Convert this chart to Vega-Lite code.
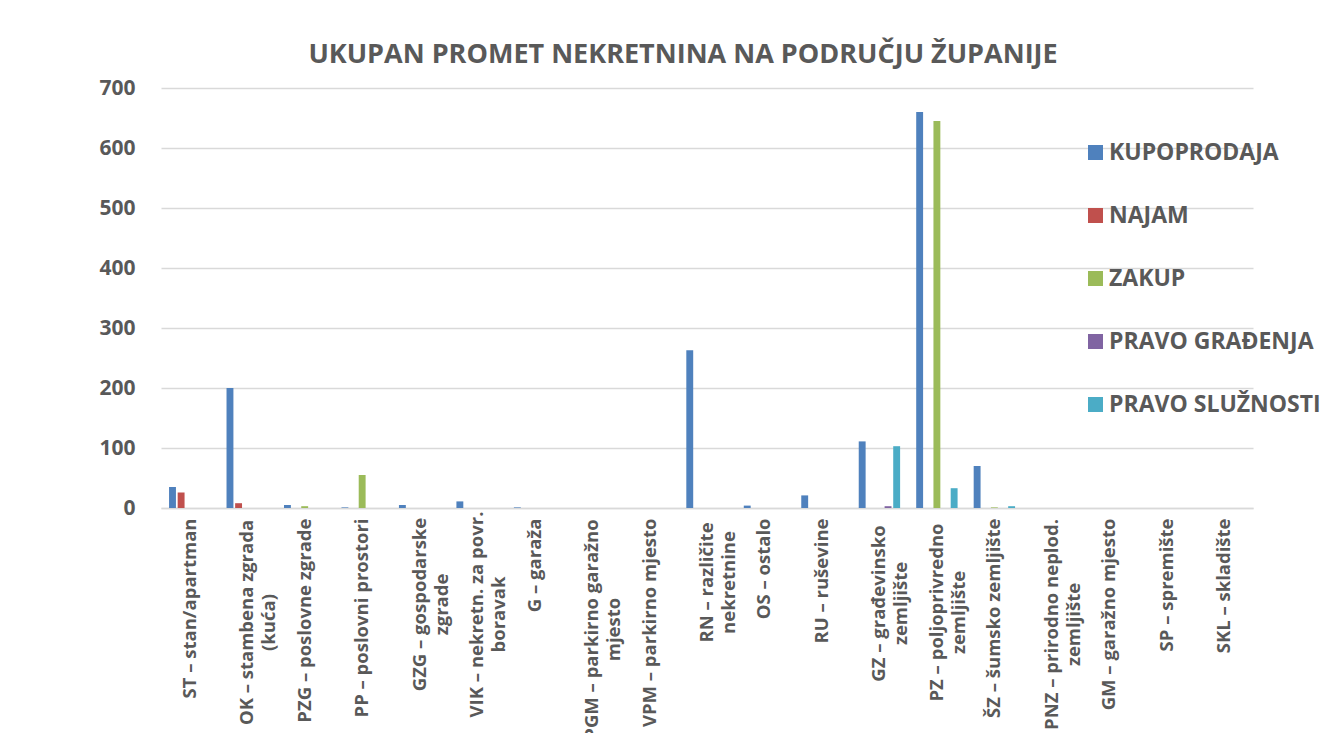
{
  "$schema": "https://vega.github.io/schema/vega-lite/v6.json",
  "width": 1092,
  "height": 420,
  "autosize": {"type": "none"},
  "padding": {"left": 161, "top": 88, "right": 88, "bottom": 225},
  "background": "white",
  "title": {
    "text": "UKUPAN PROMET NEKRETNINA NA PODRUČJU ŽUPANIJE",
    "font": "Open Sans",
    "fontSize": 27,
    "fontWeight": "bold",
    "color": "#595959",
    "anchor": "middle",
    "dx": -24,
    "offset": 8
  },
  "data": {
    "values": [
      {"category": "ST – stan/apartman", "series": "KUPOPRODAJA", "value": 35},
      {"category": "ST – stan/apartman", "series": "NAJAM", "value": 26},
      {"category": "OK – stambena zgrada (kuća)", "series": "KUPOPRODAJA", "value": 200},
      {"category": "OK – stambena zgrada (kuća)", "series": "NAJAM", "value": 8},
      {"category": "PZG – poslovne zgrade", "series": "KUPOPRODAJA", "value": 5},
      {"category": "PZG – poslovne zgrade", "series": "ZAKUP", "value": 3},
      {"category": "PP – poslovni prostori", "series": "KUPOPRODAJA", "value": 1},
      {"category": "PP – poslovni prostori", "series": "ZAKUP", "value": 55},
      {"category": "GZG – gospodarske zgrade", "series": "KUPOPRODAJA", "value": 5},
      {"category": "VIK – nekretn. za povr. boravak", "series": "KUPOPRODAJA", "value": 11},
      {"category": "G – garaža", "series": "KUPOPRODAJA", "value": 1},
      {"category": "RN – različite nekretnine", "series": "KUPOPRODAJA", "value": 263},
      {"category": "OS – ostalo", "series": "KUPOPRODAJA", "value": 4},
      {"category": "RU – ruševine", "series": "KUPOPRODAJA", "value": 21},
      {"category": "GZ – građevinsko zemljište", "series": "KUPOPRODAJA", "value": 111},
      {"category": "GZ – građevinsko zemljište", "series": "PRAVO GRAĐENJA", "value": 3},
      {"category": "GZ – građevinsko zemljište", "series": "PRAVO SLUŽNOSTI", "value": 103},
      {"category": "PZ – poljoprivredno zemljište", "series": "KUPOPRODAJA", "value": 660},
      {"category": "PZ – poljoprivredno zemljište", "series": "ZAKUP", "value": 645},
      {"category": "PZ – poljoprivredno zemljište", "series": "PRAVO SLUŽNOSTI", "value": 33},
      {"category": "ŠZ – šumsko zemljište", "series": "KUPOPRODAJA", "value": 70},
      {"category": "ŠZ – šumsko zemljište", "series": "ZAKUP", "value": 1},
      {"category": "ŠZ – šumsko zemljište", "series": "PRAVO SLUŽNOSTI", "value": 3}
    ]
  },
  "mark": {"type": "bar"},
  "encoding": {
    "x": {
      "field": "category",
      "type": "nominal",
      "sort": null,
      "scale": {
        "domain": [
          "ST – stan/apartman",
          "OK – stambena zgrada (kuća)",
          "PZG – poslovne zgrade",
          "PP – poslovni prostori",
          "GZG – gospodarske zgrade",
          "VIK – nekretn. za povr. boravak",
          "G – garaža",
          "PGM – parkirno garažno mjesto",
          "VPM – parkirno mjesto",
          "RN – različite nekretnine",
          "OS – ostalo",
          "RU – ruševine",
          "GZ – građevinsko zemljište",
          "PZ – poljoprivredno zemljište",
          "ŠZ – šumsko zemljište",
          "PNZ – prirodno neplod. zemljište",
          "GM – garažno mjesto",
          "SP – spremište",
          "SKL – skladište"
        ],
        "paddingInner": 0.25,
        "paddingOuter": 0.125
      },
      "axis": {
        "title": null,
        "labelAngle": 270,
        "labelAlign": {
          "condition": {
            "test": "indexof(['OK – stambena zgrada (kuća)', 'GZG – gospodarske zgrade', 'VIK – nekretn. za povr. boravak', 'PGM – parkirno garažno mjesto', 'RN – različite nekretnine', 'GZ – građevinsko zemljište', 'PZ – poljoprivredno zemljište', 'PNZ – prirodno neplod. zemljište'], datum.value) >= 0",
            "value": "center"
          },
          "value": "right"
        },
        "labelPadding": {
          "condition": [
            {"test": "datum.value == 'OK – stambena zgrada (kuća)'", "value": 114},
            {"test": "datum.value == 'GZG – gospodarske zgrade'", "value": 96},
            {"test": "datum.value == 'VIK – nekretn. za povr. boravak'", "value": 106},
            {"test": "datum.value == 'PGM – parkirno garažno mjesto'", "value": 121},
            {"test": "datum.value == 'RN – različite nekretnine'", "value": 74},
            {"test": "datum.value == 'GZ – građevinsko zemljište'", "value": 95},
            {"test": "datum.value == 'PZ – poljoprivredno zemljište'", "value": 104},
            {"test": "datum.value == 'PNZ – prirodno neplod. zemljište'", "value": 116}
          ],
          "value": 10
        },
        "labelBaseline": "middle",
        "labelFont": "Open Sans",
        "labelFontSize": 18.5,
        "labelFontWeight": "bold",
        "labelColor": "#595959",
        "labelLimit": 400,
        "labelLineHeight": 22,
        "ticks": false,
        "domainColor": "#D9D9D9",
        "domainWidth": 1.5,
        "grid": false,
        "labelExpr": "datum.value == 'OK – stambena zgrada (kuća)' ? ['OK – stambena zgrada', '(kuća)'] : datum.value == 'GZG – gospodarske zgrade' ? ['GZG – gospodarske', 'zgrade'] : datum.value == 'VIK – nekretn. za povr. boravak' ? ['VIK – nekretn. za povr.', 'boravak'] : datum.value == 'PGM – parkirno garažno mjesto' ? ['PGM – parkirno garažno', 'mjesto'] : datum.value == 'RN – različite nekretnine' ? ['RN – različite', 'nekretnine'] : datum.value == 'GZ – građevinsko zemljište' ? ['GZ – građevinsko', 'zemljište'] : datum.value == 'PZ – poljoprivredno zemljište' ? ['PZ – poljoprivredno', 'zemljište'] : datum.value == 'PNZ – prirodno neplod. zemljište' ? ['PNZ – prirodno neplod.', 'zemljište'] : datum.value"
      }
    },
    "xOffset": {
      "field": "series",
      "type": "nominal",
      "scale": {
        "domain": ["KUPOPRODAJA", "NAJAM", "ZAKUP", "PRAVO GRAĐENJA", "PRAVO SLUŽNOSTI"],
        "paddingInner": 0.2,
        "paddingOuter": 0.1
      }
    },
    "y": {
      "field": "value",
      "type": "quantitative",
      "scale": {"domain": [0, 700], "nice": false},
      "axis": {
        "title": null,
        "values": [0, 100, 200, 300, 400, 500, 600, 700],
        "labelFont": "Open Sans",
        "labelFontSize": 21,
        "labelFontWeight": "bold",
        "labelColor": "#595959",
        "labelPadding": 26,
        "ticks": false,
        "domain": false,
        "grid": true,
        "gridColor": "#D9D9D9",
        "gridWidth": 1.5
      }
    },
    "color": {
      "field": "series",
      "type": "nominal",
      "scale": {
        "domain": ["KUPOPRODAJA", "NAJAM", "ZAKUP", "PRAVO GRAĐENJA", "PRAVO SLUŽNOSTI"],
        "range": ["#4F81BD", "#C0504D", "#9BBB59", "#8064A2", "#4BACC6"]
      },
      "legend": {
        "title": null,
        "orient": "none",
        "legendX": 923,
        "legendY": 53,
        "direction": "vertical",
        "symbolType": "square",
        "symbolSize": 225,
        "symbolStrokeWidth": 0,
        "labelFont": "Open Sans",
        "labelFontSize": 23,
        "labelFontWeight": "bold",
        "labelColor": "#595959",
        "labelOffset": 2,
        "labelLimit": 400,
        "rowPadding": 39
      }
    }
  },
  "config": {
    "view": {"stroke": null}
  }
}
